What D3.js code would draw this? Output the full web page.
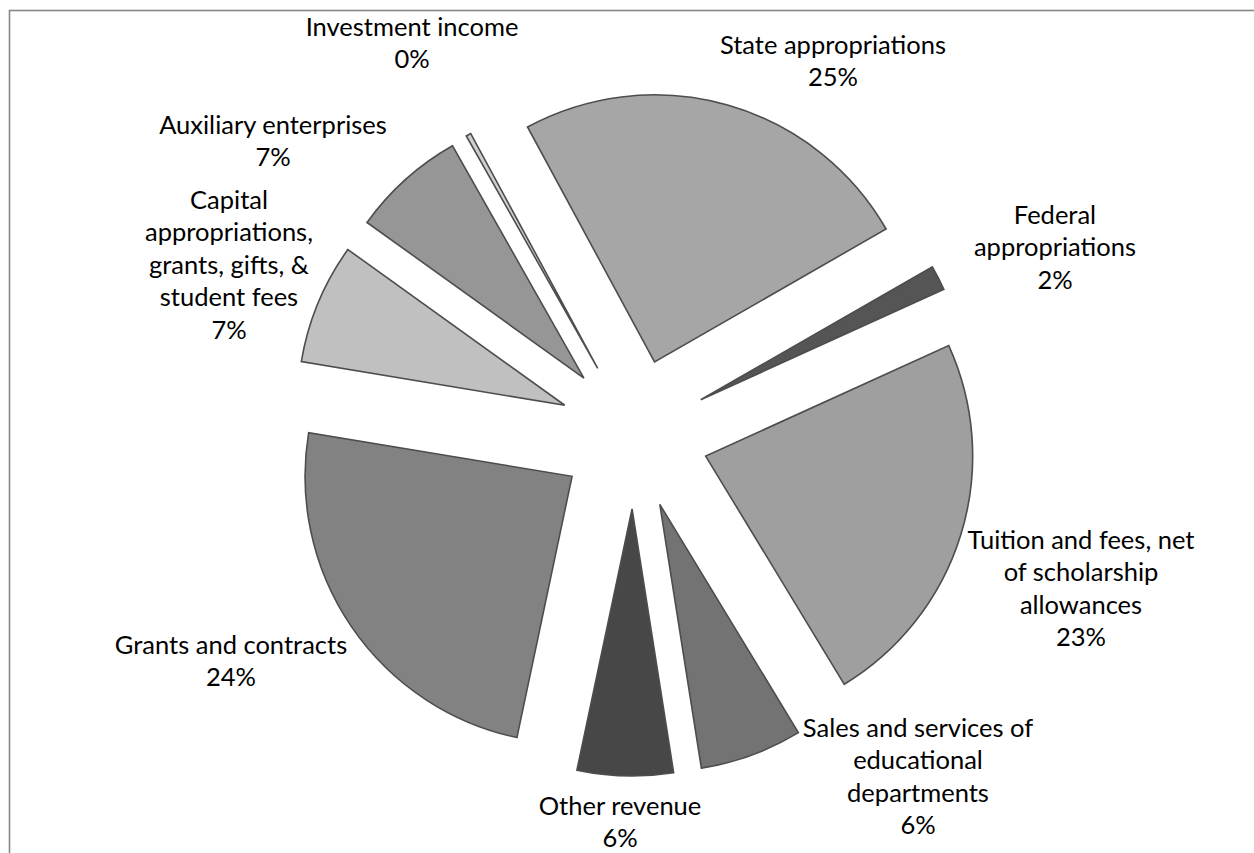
<!DOCTYPE html>
<html><head><meta charset="utf-8">
<script src="https://cdn.jsdelivr.net/npm/d3@7"></script>
<style>html,body{margin:0;padding:0;background:#fff;overflow:hidden}</style>
</head><body>
<svg id="chart" width="1254" height="853"></svg>
<script>
// Data (clockwise from State appropriations)
const categories = ["State appropriations","Federal appropriations","Tuition and fees, net of scholarship allowances","Sales and services of educational departments","Other revenue","Grants and contracts","Capital appropriations, grants, gifts, & student fees","Auxiliary enterprises","Investment income"];
const values = [24.6, 1.5, 23.1, 6.2, 5.8, 24.3, 7.3, 6.9, 0.3];
const labelLines = [
  ["State appropriations"],
  ["Federal","appropriations"],
  ["Tuition and fees, net","of scholarship","allowances"],
  ["Sales and services of","educational","departments"],
  ["Other revenue"],
  ["Grants and contracts"],
  ["Capital","appropriations,","grants, gifts, &","student fees"],
  ["Auxiliary enterprises"],
  ["Investment income"]
];
const colors = ["#a6a6a6","#555555","#9f9f9f","#737373","#474747","#828282","#c0c0c0","#969696","#cfcfcf"];
// label anchor positions (center x, first-line center y)
const labelPos = [[833,45],[1055,215],[1081,540],[918,728],[620,806],[231,645],[229,200],[273,125],[412,27]];

const svg = d3.select("#chart");
svg.append("rect").attr("x",9.5).attr("y",10.5).attr("width",1400).attr("height",1000)
  .attr("fill","none").attr("stroke","#878787").attr("stroke-width",1.6);

const cx = 634, cy = 434, R = 267, explode = 75;
const start = -28.4 * Math.PI/180;
const pie = d3.pie().sort(null).value(d=>d).startAngle(start).endAngle(start+2*Math.PI);
const arcs = pie(values);
const arc = d3.arc().innerRadius(0).outerRadius(R);
const total = d3.sum(values);
const fmt = d3.format(".0%");

const g = svg.append("g").attr("transform",`translate(${cx},${cy})`);
g.selectAll("path").data(arcs).join("path")
  .attr("d",arc)
  .attr("fill",(d,i)=>colors[i])
  .attr("stroke","#4d4d4d").attr("stroke-width",1.6).attr("stroke-linejoin","miter")
  .attr("transform",d=>{const m=(d.startAngle+d.endAngle)/2;return `translate(${explode*Math.sin(m)},${-explode*Math.cos(m)})`;});

const fontSize = 25.5, lh = 32.5;
arcs.forEach((d,i)=>{
  const lines = labelLines[i].concat([fmt(values[i]/total)]);
  const t = svg.append("text").attr("text-anchor","middle")
    .attr("font-family","Lato, 'Open Sans', sans-serif").attr("font-size",fontSize).attr("fill","#000");
  lines.forEach((s,k)=>{
    t.append("tspan").attr("x",labelPos[i][0]).attr("y",labelPos[i][1]+k*lh).attr("dy","0.35em").text(s);
  });
});
</script>
</body></html>
